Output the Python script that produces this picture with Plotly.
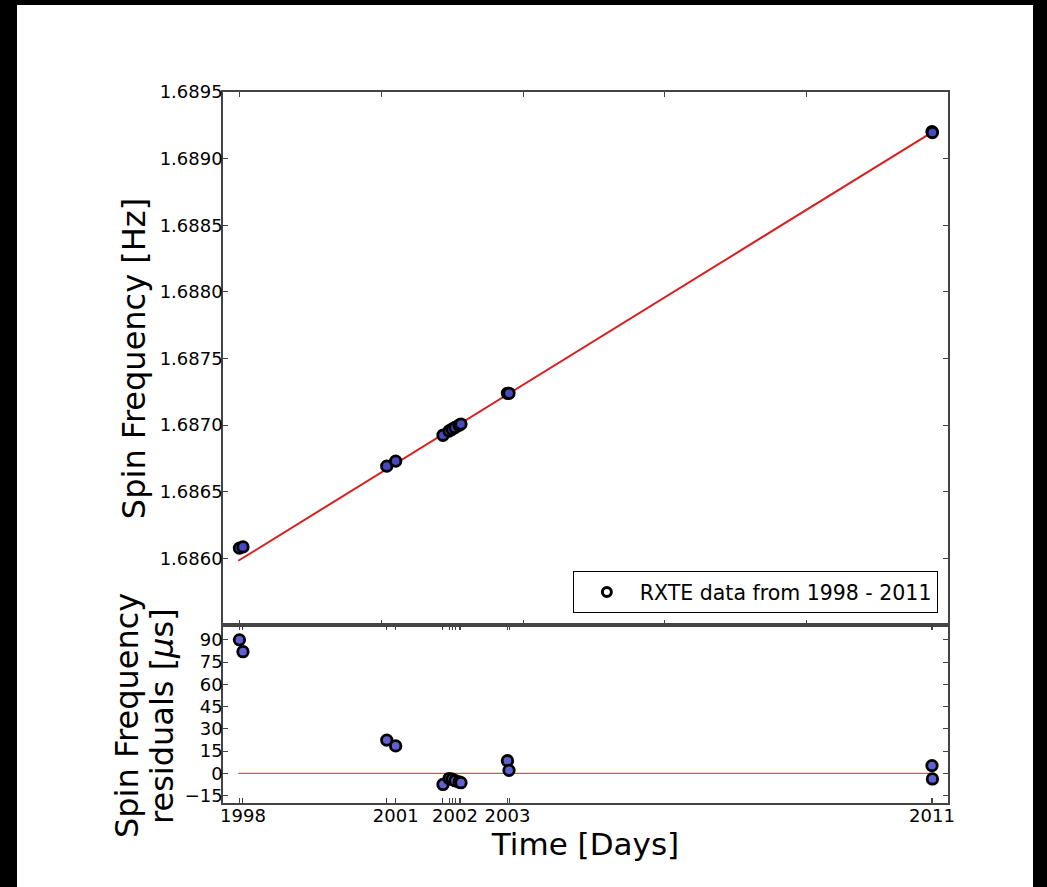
import plotly.graph_objects as go

# ---- data (MJD) ----
t_mjd = [50998, 51023, 52038, 52101, 52435, 52478, 52499, 52520, 52548, 52562, 52890, 52901, 55887, 55890]
freq_hz = [1.686077, 1.686086, 1.686692, 1.686730, 1.686924, 1.686956, 1.686969, 1.686982,
           1.686999, 1.687008, 1.687239, 1.687239, 1.689202, 1.689196]
resid_mu = [90, 82, 22.4, 18.5, -7.5, -3.5, -4.0, -5.0, -5.8, -6.3, 8.5, 2.0, 5.2, -3.8]

fit_t = [50990, 55895]
fit_f = [1.685982, 1.689203]
zero_res = [0, 0]

top_tickvals = [51000, 52000, 53000, 54000, 55000, 56000]
freq_ticks = [1.6860, 1.6865, 1.6870, 1.6875, 1.6880, 1.6885, 1.6890, 1.6895]
res_ticks = [-15, 0, 15, 30, 45, 60, 75, 90]
year_labels = ["", "1998", "", "2001", "", "", "", "2002", "", "", "2003", "", "2011", ""]

FONT = "DejaVu Sans"
AX = "#444444"

fig = go.Figure()
fig.add_trace(go.Scatter(x=fit_t, y=fit_f, mode="lines", line=dict(color="#d82020", width=2),
                         showlegend=False, xaxis="x", yaxis="y", hoverinfo="skip"))
fig.add_trace(go.Scatter(x=t_mjd, y=freq_hz, mode="markers", name="RXTE data from 1998 - 2011",
                         showlegend=False,
                         marker=dict(size=10.5, color="#4848c0", line=dict(color="black", width=2.8)),
                         xaxis="x", yaxis="y"))
# legend entry (open circle style as in the reference legend)
fig.add_trace(go.Scatter(x=[None], y=[None], mode="markers", name="RXTE data from 1998 - 2011",
                         marker=dict(size=9, color="white", line=dict(color="black", width=3)),
                         xaxis="x", yaxis="y"))
fig.add_trace(go.Scatter(x=fit_t, y=zero_res, mode="lines", line=dict(color="#e05050", width=1.2),
                         showlegend=False, xaxis="x2", yaxis="y2", hoverinfo="skip"))
fig.add_trace(go.Scatter(x=t_mjd, y=resid_mu, mode="markers", showlegend=False,
                         marker=dict(size=10.5, color="#6060d0", line=dict(color="black", width=2.8)),
                         xaxis="x2", yaxis="y2"))

split = (803 - 625) / 711.0
common = dict(showline=True, linecolor=AX, linewidth=1.5, mirror="ticks", ticks="inside",
              ticklen=5, tickcolor=AX, tickwidth=1.3, showgrid=False, zeroline=False,
              tickfont=dict(family=FONT, size=18, color="black"))

fig.update_layout(
    width=1047, height=887,
    margin=dict(l=223, r=99, t=92, b=84, autoexpand=False),
    paper_bgcolor="white", plot_bgcolor="white",
    font=dict(family=FONT, color="black"),
    xaxis=dict(domain=[0, 1], anchor="y", range=[50882, 56000], tickmode="array",
               tickvals=top_tickvals, showticklabels=False, **common),
    yaxis=dict(domain=[split, 1], anchor="x", range=[1.6855, 1.6895], tickmode="array",
               tickvals=freq_ticks, tickformat=".4f", ticklabelstandoff=-5,
               title=dict(text="Spin Frequency [Hz]", font=dict(family=FONT, size=32), standoff=4),
               **common),
    xaxis2=dict(domain=[0, 1], anchor="y2", range=[50882, 56000], tickmode="array",
                tickvals=t_mjd, ticktext=year_labels, ticklabelstandoff=-4,
                title=dict(text="Time [Days]", font=dict(family=FONT, size=31), standoff=2),
                **common),
    yaxis2=dict(domain=[0, split], anchor="x2", range=[-20, 100], tickmode="array",
                tickvals=res_ticks, ticklabelstandoff=-5, **common),
    legend=dict(x=0.986, y=0.267, xanchor="right", yanchor="bottom", bgcolor="white",
                bordercolor="black", borderwidth=1, itemwidth=56,
                font=dict(family=FONT, size=20.5)),
    annotations=[
        dict(text="Spin Frequency", xref="paper", yref="paper", x=(127 - 223) / 725, y=(803 - 716) / 711,
             textangle=-90, showarrow=False, xanchor="center", yanchor="middle",
             font=dict(family=FONT, size=32, color="black")),
        dict(text="residuals [<i>μ</i>s]", xref="paper", yref="paper", x=(162 - 223) / 725, y=(803 - 716) / 711,
             textangle=-90, showarrow=False, xanchor="center", yanchor="middle",
             font=dict(family=FONT, size=32, color="black")),
    ],
    shapes=[
        dict(type="rect", xref="paper", yref="paper", x0=-1, x1=(17 - 223) / 725, y0=-1, y1=2,
             fillcolor="black", line=dict(width=0), layer="above"),
        dict(type="rect", xref="paper", yref="paper", x0=(1033 - 223) / 725, x1=2, y0=-1, y1=2,
             fillcolor="black", line=dict(width=0), layer="above"),
        dict(type="rect", xref="paper", yref="paper", x0=-1, x1=2, y0=(803 - 5) / 711, y1=2,
             fillcolor="black", line=dict(width=0), layer="above"),
    ],
)

fig.write_html("out.html", config={"displayModeBar": False},
               post_script="document.body.style.margin='0px';")
